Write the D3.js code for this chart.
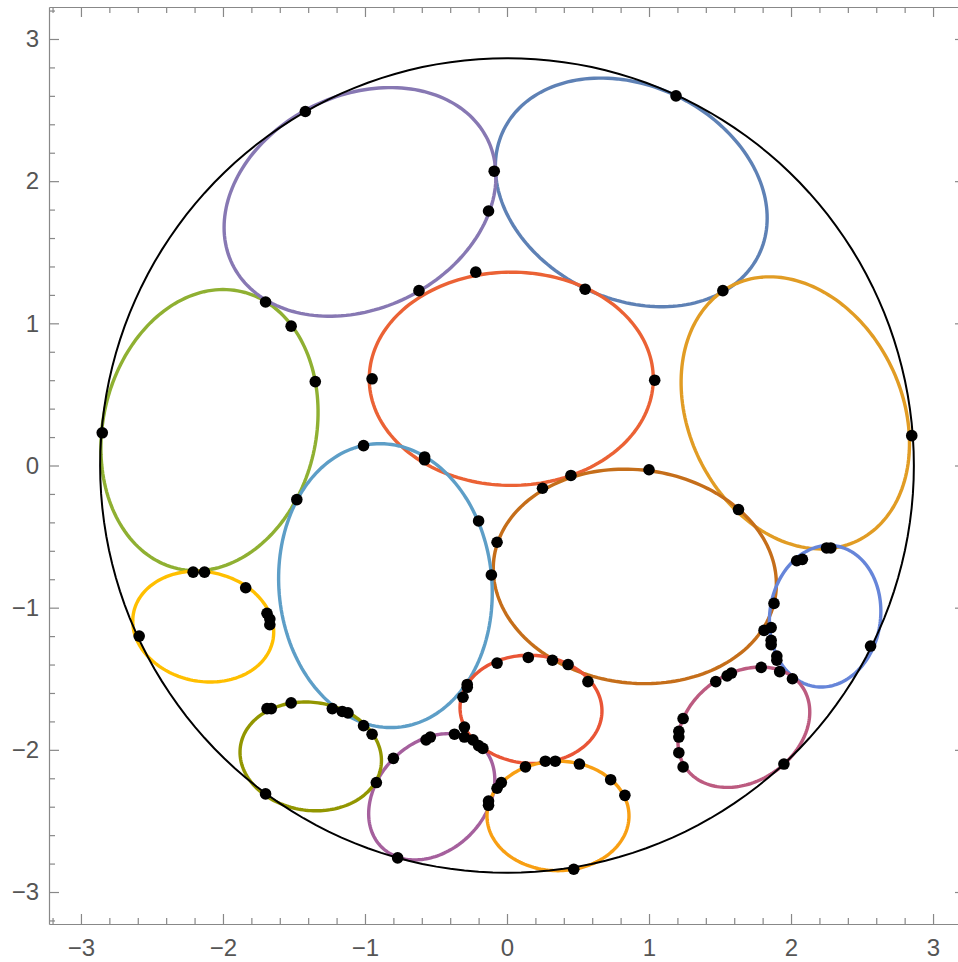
<!DOCTYPE html>
<html>
<head>
<meta charset="utf-8">
<script src="https://cdn.jsdelivr.net/npm/d3@7"></script>
<style>
  body { margin: 0; background: #fff; }
  .axis text { font-family: "Liberation Sans", Arial, sans-serif; font-size: 24px; fill: #555; }
  .axis path, .axis line { stroke: #888; stroke-width: 1.2; }
</style>
</head>
<body>
<div id="chart"></div>
<script>
// Ellipses inside the big circle (centre, semi axes, rotation in degrees)
const ellipseColors = ["#5e81b5", "#e19c24", "#8fb032", "#eb6235", "#8778b3", "#c56e1a", "#5d9ec7",
  "#ffbf00", "#a5609d", "#929600", "#e95536", "#6685d9", "#f89f13", "#bc5b80"];
const ellipseCx = [0.875, 2.03, -2.095, 0.03, -1.035, 0.90, -0.856, -2.139, -0.53, -1.382, 0.169, 2.24, 0.359, 1.668];
const ellipseCy = [1.921, 0.37, 0.249, 0.61, 1.854, -0.78, -0.845, -1.133, -2.33, -2.046, -1.715, -1.06, -2.465, -1.841];
const ellipseRx = [1.0, 1.0, 1.0, 1.0, 1.0, 1.0, 1.0, 0.5, 0.5, 0.5, 0.5, 0.5, 0.5, 0.5];
const ellipseRy = [0.75, 0.75, 0.75, 0.75, 0.75, 0.75, 0.75, 0.385, 0.38, 0.38, 0.38, 0.39, 0.385, 0.38];
const ellipseAngle = [-26, -64, 77, 0, 26, -7, 95, -11, 45, -8, -3, 82, 0, 35];

// Outer circle
const outerRadius = 2.865;

// Black contact points
const pointX = [-1.42, 1.19, -0.09, -0.13, -0.22, -0.62, 0.55, 1.52, -1.70, -1.52, -1.35, -0.95, 1.04,
  -2.85, 2.85, -1.01, -0.58, -0.58, -1.48, -0.20, -0.07, -0.11, 0.25, 0.45, 1.00, 1.63,
  2.25, 2.28, 2.04, 2.08, 1.88, 1.81, 1.86, 1.86, 1.86, 1.90, 1.90, 1.92, 2.01, 1.79, 2.56,
  1.58, 1.55, 1.47, 1.24, 1.21, 1.21, 1.21, 1.24, 1.95,
  -2.21, -2.13, -1.84, -1.69, -1.67, -1.67, -2.59,
  -0.07, 0.15, 0.32, 0.43, 0.57, -0.28, -0.28, -0.31,
  -1.69, -1.66, -1.52, -1.23, -1.16, -1.12, -1.01, -0.95,
  -0.30, -0.37, -0.30, -0.24, -0.20, -0.17, -0.57, -0.54, -0.80, -0.92, -1.70, -0.77,
  0.13, 0.27, 0.34, 0.51, 0.73, 0.83, -0.04, -0.07, -0.13, -0.13, 0.47];
const pointY = [2.49, 2.60, 2.07, 1.79, 1.36, 1.23, 1.24, 1.23, 1.15, 0.98, 0.59, 0.61, 0.60,
  0.23, 0.21, 0.14, 0.06, 0.04, -0.24, -0.39, -0.54, -0.77, -0.16, -0.07, -0.03, -0.31,
  -0.58, -0.58, -0.67, -0.66, -0.97, -1.16, -1.14, -1.23, -1.26, -1.34, -1.37, -1.45, -1.50, -1.42, -1.27,
  -1.46, -1.48, -1.52, -1.78, -1.87, -1.91, -2.02, -2.12, -2.10,
  -0.75, -0.75, -0.86, -1.04, -1.08, -1.12, -1.20,
  -1.39, -1.35, -1.37, -1.40, -1.52, -1.54, -1.56, -1.63,
  -1.71, -1.71, -1.67, -1.71, -1.73, -1.74, -1.83, -1.89,
  -1.84, -1.89, -1.91, -1.93, -1.97, -1.99, -1.93, -1.91, -2.06, -2.23, -2.31, -2.76,
  -2.12, -2.08, -2.08, -2.10, -2.21, -2.32, -2.23, -2.27, -2.36, -2.39, -2.84];

// Ticks
const majorTicks = [-3, -2, -1, 0, 1, 2, 3];
const minorTicks = [-3.2, -2.8, -2.6, -2.4, -2.2, -1.8, -1.6, -1.4, -1.2, -0.8, -0.6, -0.4, -0.2,
  0.2, 0.4, 0.6, 0.8, 1.2, 1.4, 1.6, 1.8, 2.2, 2.4, 2.6, 2.8, 3.2];

const width = 958;
const height = 962;
const plotRange = [-3.225, 3.225];

const svg = d3.select("#chart")
  .append("svg")
  .attr("width", width)
  .attr("height", height);

const x = d3.scaleLinear().domain(plotRange).range([49, 965]);
const y = d3.scaleLinear().domain(plotRange).range([924, 7]);

const line = d3.line()
  .x(d => x(d[0]))
  .y(d => y(d[1]))
  .curve(d3.curveLinearClosed);

const angles = d3.range(0, 360, 2).map(d => d * Math.PI / 180);

function ellipsePoints(i) {
  const th = ellipseAngle[i] * Math.PI / 180;
  return angles.map(s => {
    const u = ellipseRx[i] * Math.cos(s);
    const v = ellipseRy[i] * Math.sin(s);
    return [ellipseCx[i] + u * Math.cos(th) - v * Math.sin(th),
            ellipseCy[i] + u * Math.sin(th) + v * Math.cos(th)];
  });
}

// Ellipses
svg.append("g")
  .selectAll("path")
  .data(ellipseColors)
  .enter()
  .append("path")
  .attr("d", (d, i) => line(ellipsePoints(i)))
  .attr("fill", "none")
  .attr("stroke", d => d)
  .attr("stroke-width", 3.4);

// Outer circle
svg.append("path")
  .attr("d", line(angles.map(s => [outerRadius * Math.cos(s), outerRadius * Math.sin(s)])))
  .attr("fill", "none")
  .attr("stroke", "#000")
  .attr("stroke-width", 2);

// Points
svg.append("g")
  .selectAll("circle")
  .data(pointX)
  .enter()
  .append("circle")
  .attr("cx", d => x(d))
  .attr("cy", (d, i) => y(pointY[i]))
  .attr("r", 5.8)
  .attr("fill", "#000");

// Frame with ticks on all four sides
const fmt = d3.format("d");
const frame = [
  { axis: d3.axisBottom(x), pos: `translate(0,${y(plotRange[0])})`, labels: true, pad: 15 },
  { axis: d3.axisTop(x), pos: `translate(0,${y(plotRange[1])})`, labels: false, pad: 10 },
  { axis: d3.axisLeft(y), pos: `translate(${x(plotRange[0])},0)`, labels: true, pad: 10 },
  { axis: d3.axisRight(y), pos: `translate(${x(plotRange[1])},0)`, labels: false, pad: 10 }
];

frame.forEach(f => {
  svg.append("g")
    .attr("class", "axis")
    .attr("transform", f.pos)
    .call(f.axis.tickValues(minorTicks).tickSizeInner(-6).tickSizeOuter(0).tickFormat(""))
    .select(".domain").remove();

  svg.append("g")
    .attr("class", "axis")
    .attr("transform", f.pos)
    .call(f.axis.tickValues(majorTicks).tickSizeInner(-10).tickSizeOuter(0)
      .tickPadding(f.pad)
      .tickFormat(f.labels ? fmt : ""));
});
</script>
</body>
</html>
